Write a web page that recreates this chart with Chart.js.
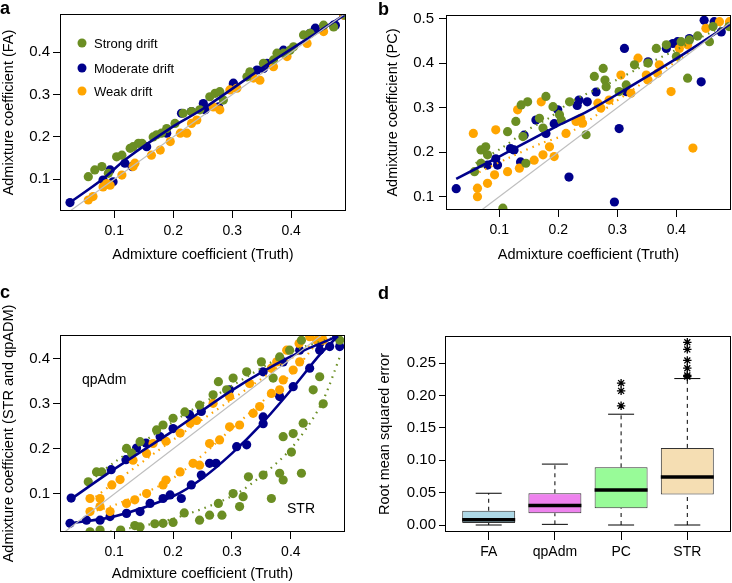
<!DOCTYPE html>
<html>
<head>
<meta charset="utf-8">
<script src="https://cdn.jsdelivr.net/npm/chart.js@4.4.0/dist/chart.umd.min.js"></script>
<style>
  body { margin: 0; background: #fff; }
  #fig { position: relative; width: 732px; height: 583px; font-family: 'Liberation Sans', Arial, sans-serif; color: #000; }
  canvas { position: absolute; }
  .tag { position: absolute; font-weight: bold; font-size: 18px; line-height: 18px; }
  .note { position: absolute; font-size: 13px; line-height: 13px; transform: translateY(-50%); white-space: nowrap; }
  .note.big { font-size: 14px; line-height: 14px; }
  .dot { position: absolute; width: 9px; height: 9px; border-radius: 50%; transform: translate(-50%, -50%); }
</style>
</head>
<body>
<div id="fig">
  <canvas id="chartA" width="366" height="290" style="left:0;top:0"></canvas>
  <canvas id="chartB" width="366" height="290" style="left:366px;top:0"></canvas>
  <canvas id="chartC" width="366" height="293" style="left:0;top:290px"></canvas>
  <canvas id="chartD" width="366" height="293" style="left:366px;top:290px"></canvas>

  <div class="tag" style="left:0;top:-1px">a</div>
  <div class="tag" style="left:378px;top:0">b</div>
  <div class="tag" style="left:0;top:283px">c</div>
  <div class="tag" style="left:378px;top:284px">d</div>

  <div class="dot" style="left:82px;top:43px;background:#6B8E23"></div>
  <div class="note" style="left:94px;top:43px">Strong drift</div>
  <div class="dot" style="left:82px;top:68px;background:#00008B"></div>
  <div class="note" style="left:94px;top:68px">Moderate drift</div>
  <div class="dot" style="left:82px;top:91px;background:#FFA500"></div>
  <div class="note" style="left:94px;top:91px">Weak drift</div>

  <div class="note big" style="left:82px;top:379px">qpAdm</div>
  <div class="note big" style="left:287px;top:508px">STR</div>
</div>

<script>
const GREEN = '#6B8E23', NAVY = '#00008B', ORANGE = '#FFA500', GRAY = '#BEBEBE';
const diag = [0, 0.5];

// panel a : FA vs truth
const aStrongX = [.056,.067,.079,.090,.104,.113,.127,.132,.141,.147,.166,.172,.180,.189,.203,.217,.231,.245,.262,.271,.279,.285,.325,.330,.353,.370,.376,.387,.398,.404,.421,.432,.455,.472,.492];
const aStrongY = [.106,.122,.130,.114,.153,.157,.173,.177,.185,.185,.200,.205,.209,.220,.232,.256,.260,.264,.295,.303,.307,.287,.342,.354,.374,.382,.398,.398,.405,.413,.441,.445,.464,.460,.488];
const aModX = [.025,.081,.093,.098,.118,.130,.155,.189,.214,.231,.251,.254,.277,.302,.302,.342,.353,.359,.387,.432,.441,.472,.475,.489];
const aModY = [.045,.098,.122,.094,.138,.130,.177,.209,.256,.260,.279,.264,.271,.327,.323,.358,.362,.374,.405,.445,.457,.464,.464,.488];
const aWeakX = [.056,.064,.081,.087,.093,.113,.132,.135,.163,.178,.195,.212,.223,.231,.240,.268,.279,.296,.308,.336,.347,.370,.393,.427,.455,.489];
const aWeakY = [.051,.059,.082,.090,.086,.110,.130,.138,.157,.169,.189,.209,.209,.232,.240,.271,.264,.311,.315,.339,.334,.366,.390,.421,.449,.488];
const aModLineX = [.025,.08,.12,.2,.25,.35,.45,.49];
const aModLineY = [.045,.10,.148,.225,.266,.362,.452,.488];

// panel b : PC vs truth
const bModX = [.027,.080,.094,.097,.119,.125,.136,.142,.162,.179,.193,.199,.218,.232,.235,.249,.264,.295,.303,.312,.315,.352,.383,.394,.402,.422,.442,.447,.464,.476];
const bModY = [.118,.171,.185,.171,.208,.205,.178,.238,.272,.242,.264,.295,.144,.305,.317,.313,.335,.088,.253,.433,.336,.403,.433,.444,.448,.455,.358,.496,.493,.470];
const bWeakX = [.056,.063,.063,.080,.092,.094,.114,.131,.134,.159,.171,.174,.185,.193,.213,.230,.238,.241,.267,.272,.286,.306,.323,.335,.349,.352,.368,.371,.391,.405,.419,.428,.450,.473,.490];
const bWeakY = [.242,.119,.100,.130,.149,.250,.156,.295,.164,.182,.313,.194,.212,.190,.242,.269,.276,.265,.310,.299,.317,.373,.332,.411,.373,.362,.377,.396,.336,.433,.441,.209,.478,.493,.493];
const bStrongX = [.058,.069,.069,.077,.080,.106,.114,.128,.137,.140,.145,.148,.168,.174,.179,.191,.202,.205,.219,.247,.261,.276,.279,.281,.303,.315,.329,.352,.366,.383,.400,.408,.419,.422,.436,.456,.462,.489];
const bStrongY = [.156,.205,.175,.212,.194,.074,.246,.269,.306,.235,.175,.313,.276,.254,.325,.302,.284,.272,.313,.239,.370,.388,.362,.347,.336,.351,.396,.400,.433,.441,.415,.448,.366,.452,.461,.448,.482,.482];
const bModLineX = [.027,.1,.2,.25,.3,.4,.49];
const bModLineY = [.14,.19,.26,.292,.33,.41,.487];
const bStrongLineX = [.06,.105,.147,.187,.221,.303,.34,.4,.49];
const bStrongLineY = [.175,.21,.249,.279,.313,.365,.391,.43,.49];
const bWeakLineX = [.066,.119,.170,.221,.329,.399,.49];
const bWeakLineY = [.155,.189,.219,.245,.343,.403,.49];

// panel c : qpAdm (upper group) and STR (lower group) vs truth
const cQpModX = [.027,.095,.120,.138,.154,.178,.200,.228,.248,.296,.353,.387,.415,.449,.478];
const cQpModY = [.091,.154,.176,.202,.213,.227,.245,.276,.283,.331,.371,.393,.419,.434,.449];
const cQpStrongX = [.056,.070,.079,.121,.130,.144,.172,.183,.200,.220,.245,.268,.277,.291,.302,.325,.350,.370,.381,.398,.418,.483];
const cQpStrongY = [.127,.149,.149,.201,.190,.216,.242,.253,.268,.282,.297,.320,.349,.331,.357,.371,.393,.357,.404,.419,.441,.441];
const cQpWeakX = [.059,.076,.096,.110,.132,.155,.166,.188,.212,.229,.240,.268,.296,.330,.367,.376,.393,.414,.432,.455];
const cQpWeakY = [.090,.090,.120,.132,.175,.190,.212,.217,.235,.257,.263,.301,.316,.345,.379,.393,.419,.434,.449,.441];
const cStrModX = [.025,.053,.076,.093,.121,.144,.161,.183,.195,.214,.231,.248,.262,.273,.308,.325,.353,.353,.381,.404,.432,.449,.466,.483];
const cStrModY = [.035,.042,.042,.050,.057,.061,.079,.090,.098,.090,.120,.142,.168,.168,.205,.209,.271,.256,.316,.338,.379,.419,.427,.427];
const cStrWeakX = [.059,.076,.093,.121,.135,.155,.183,.188,.212,.234,.245,.262,.279,.296,.313,.336,.347,.367,.381,.387,.404,.415,.444];
const cStrWeakY = [.061,.072,.061,.079,.087,.101,.120,.131,.149,.168,.164,.212,.220,.249,.253,.279,.294,.323,.331,.353,.375,.393,.441];
const cStrStrongX = [.059,.076,.111,.135,.144,.169,.183,.200,.219,.245,.262,.277,.283,.302,.313,.319,.328,.353,.367,.381,.387,.387,.401,.404,.418,.421,.438,.449,.455];
const cStrStrongY = [.016,.020,.020,.030,.027,.034,.035,.037,.058,.042,.053,.079,.053,.101,.072,.094,.138,.142,.090,.146,.131,.227,.193,.234,.146,.257,.331,.360,.300];
const cQpModLineX = [.025,.1,.2,.3,.4,.48];
const cQpModLineY = [.087,.155,.24,.33,.405,.45];
const cQpStrongLineX = [.06,.1,.2,.3,.4,.48];
const cQpStrongLineY = [.13,.17,.26,.34,.415,.45];
const cQpWeakLineX = [.06,.1,.2,.3,.4,.46];
const cQpWeakLineY = [.085,.125,.22,.31,.40,.45];
const cStrModLineX = [.025,.1,.2,.25,.3,.35,.4,.45,.48];
const cStrModLineY = [.035,.05,.095,.135,.19,.255,.33,.41,.45];
const cStrWeakLineX = [.06,.1,.2,.3,.4,.45];
const cStrWeakLineY = [.06,.075,.135,.245,.365,.445];
const cStrStrongLineX = [.06,.1,.2,.3,.35,.4,.45,.485];
const cStrStrongLineY = [.012,.018,.045,.095,.14,.2,.295,.41];

// panel d : boxplots of RMSE
const boxCats = ['FA', 'qpAdm', 'PC', 'STR'];
const boxLow = [0.000, 0.001, 0.000, 0.000];
const boxQ1 = [0.003, 0.018, 0.026, 0.047];
const boxMed = [0.008, 0.030, 0.054, 0.074];
const boxQ3 = [0.022, 0.049, 0.089, 0.119];
const boxHigh = [0.049, 0.094, 0.171, 0.226];
const outPC = [0.184, 0.207, 0.219];
const outSTR = [0.229, 0.231, 0.242, 0.254, 0.271, 0.282];
const boxColors = ['#ADD8E6', '#EE82EE', '#98FB98', '#F5DEB3'];

const ticks01 = [0.1, 0.2, 0.3, 0.4];
const ticks015 = [0.1, 0.2, 0.3, 0.4, 0.5];
const ticksErr = [0, 0.05, 0.10, 0.15, 0.20, 0.25];

Chart.defaults.font.family = "'Liberation Sans', Arial, sans-serif";
Chart.defaults.font.size = 14;
Chart.defaults.color = '#000';
Chart.defaults.animation = false;
Chart.defaults.plugins.legend.display = false;
Chart.defaults.plugins.tooltip.enabled = false;

const pts = (xs, ys) => xs.map((x, i) => ({ x: x, y: ys[i] }));

function dots(xs, ys, color, order) {
  return { type: 'scatter', data: pts(xs, ys), backgroundColor: color, borderWidth: 0,
    pointRadius: 4.6, pointHoverRadius: 4.6, order: order };
}
function fit(xs, ys, color, dotted) {
  return { type: 'scatter', showLine: true, data: pts(xs, ys), borderColor: color,
    borderWidth: dotted ? 2.2 : 2.6, borderDash: dotted ? [1.5, 5] : [],
    pointRadius: 0, pointHoverRadius: 0, tension: 0.3, order: 0 };
}
function identity() {
  return { type: 'scatter', showLine: true, data: pts(diag, diag), borderColor: GRAY,
    borderWidth: 1.2, pointRadius: 0, pointHoverRadius: 0, order: 0 };
}

// box round the plotting region, like R's box()
const frame = {
  id: 'frame',
  afterDraw(chart) {
    const { ctx, chartArea: a } = chart;
    ctx.save();
    ctx.strokeStyle = '#000';
    ctx.lineWidth = 1;
    ctx.strokeRect(Math.round(a.left) + 0.5, Math.round(a.top) + 0.5,
      Math.round(a.right - a.left) - 1, Math.round(a.bottom - a.top) - 1);
    ctx.restore();
  }
};

function axis(o) {
  return {
    type: 'linear', min: o.min, max: o.max, offset: false,
    afterBuildTicks: s => { s.ticks = o.ticks.map(v => ({ value: v })); },
    afterFit: s => { if (s.isHorizontal()) s.height = o.size; else s.width = o.size; },
    ticks: { autoSkip: false, maxRotation: 0, padding: o.labelPad, color: '#000',
      font: { size: o.horiz ? 14 : 15 }, callback: o.fmt },
    grid: { offset: false, drawOnChartArea: false, drawTicks: true, tickLength: o.tickLen, color: '#000' },
    border: { display: false },
    title: o.title ? { display: true, text: o.title, color: '#000', font: { size: 14.5 },
      padding: o.horiz ? { top: 0, bottom: o.titlePad } : { top: o.titlePad, bottom: 0 } }
      : { display: false }
  };
}
const f1 = v => v.toFixed(1);

function layout(top, right) {
  return { autoPadding: false, padding: { left: 0, top: top, right: right, bottom: 0 } };
}

// a
new Chart(document.getElementById('chartA'), {
  type: 'scatter',
  data: { datasets: [
    identity(),
    fit(aModLineX, aModLineY, NAVY),
    dots(aStrongX, aStrongY, GREEN, 1),
    dots(aWeakX, aWeakY, ORANGE, 2),
    dots(aModX, aModY, NAVY, 3)
  ] },
  options: {
    responsive: false,
    layout: layout(14, 20),
    scales: {
      x: axis({ min: 0.008, max: 0.493, ticks: ticks01, fmt: f1, size: 79, tickLen: 7, labelPad: 4.5,
        title: 'Admixture coefficient (Truth)', titlePad: 26, horiz: true }),
      y: axis({ min: 0.025, max: 0.4905, ticks: ticks01, fmt: f1, size: 60, tickLen: 7, labelPad: 3,
        title: 'Admixture coefficient (FA)', titlePad: 0 })
    }
  },
  plugins: [frame]
});

// b
new Chart(document.getElementById('chartB'), {
  type: 'scatter',
  data: { datasets: [
    identity(),
    fit(bModLineX, bModLineY, NAVY),
    fit(bStrongLineX, bStrongLineY, GREEN, true),
    fit(bWeakLineX, bWeakLineY, ORANGE, true),
    dots(bStrongX, bStrongY, GREEN, 1),
    dots(bWeakX, bWeakY, ORANGE, 2),
    dots(bModX, bModY, NAVY, 3)
  ] },
  options: {
    responsive: false,
    layout: layout(15, 1),
    scales: {
      x: axis({ min: 0.0097, max: 0.4925, ticks: ticks01, fmt: f1, size: 80, tickLen: 7, labelPad: 4.5,
        title: 'Admixture coefficient (Truth)', titlePad: 26, horiz: true }),
      y: axis({ min: 0.070, max: 0.508, ticks: ticks015, fmt: f1, size: 80, tickLen: 7, labelPad: 5,
        title: 'Admixture coefficient (PC)', titlePad: 18 })
    }
  },
  plugins: [frame]
});

// c
new Chart(document.getElementById('chartC'), {
  type: 'scatter',
  data: { datasets: [
    identity(),
    fit(cQpModLineX, cQpModLineY, NAVY),
    fit(cStrModLineX, cStrModLineY, NAVY),
    fit(cQpStrongLineX, cQpStrongLineY, GREEN, true),
    fit(cQpWeakLineX, cQpWeakLineY, ORANGE, true),
    fit(cStrWeakLineX, cStrWeakLineY, ORANGE, true),
    fit(cStrStrongLineX, cStrStrongLineY, GREEN, true),
    dots(cQpStrongX, cQpStrongY, GREEN, 1),
    dots(cStrStrongX, cStrStrongY, GREEN, 1),
    dots(cQpWeakX, cQpWeakY, ORANGE, 2),
    dots(cStrWeakX, cStrWeakY, ORANGE, 2),
    dots(cQpModX, cQpModY, NAVY, 3),
    dots(cStrModX, cStrModY, NAVY, 3)
  ] },
  options: {
    responsive: false,
    layout: layout(45, 21),
    scales: {
      x: axis({ min: 0.008, max: 0.492, ticks: ticks01, fmt: f1, size: 51, tickLen: 7, labelPad: 4.5,
        title: 'Admixture coefficient (Truth)', titlePad: 0, horiz: true }),
      y: axis({ min: 0.0157, max: 0.4526, ticks: ticks01, fmt: f1, size: 60, tickLen: 7, labelPad: 3,
        title: 'Admixture coefficient (STR and qpADM)', titlePad: 0 })
    }
  },
  plugins: [frame]
});

// d
const whiskers = [];
boxCats.forEach((c, i) => {
  [[boxQ3[i], boxHigh[i]], [boxLow[i], boxQ1[i]]].forEach(seg => {
    whiskers.push({ type: 'scatter', showLine: true,
      data: seg.map(v => ({ x: i + 1, y: v })), borderColor: '#000', borderWidth: 1,
      borderDash: [4, 4], pointRadius: 0, pointHoverRadius: 0, order: 1 });
  });
});
const capPts = arr => arr.map((v, i) => ({ x: i + 1, y: v }));

new Chart(document.getElementById('chartD'), {
  type: 'scatter',
  data: { datasets: [
    { type: 'bar', data: boxCats.map((c, i) => ({ x: i + 1, y: [boxQ1[i], boxQ3[i]] })),
      backgroundColor: boxColors, borderColor: '#333', borderWidth: 1, borderSkipped: false,
      barPercentage: 0.8, categoryPercentage: 1, order: 5 },
    ...whiskers,
    { type: 'scatter', data: capPts(boxHigh), pointStyle: 'line', pointRadius: 13, pointHoverRadius: 13,
      borderColor: '#000', pointBorderWidth: 1, order: 1 },
    { type: 'scatter', data: capPts(boxLow), pointStyle: 'line', pointRadius: 13, pointHoverRadius: 13,
      borderColor: '#000', pointBorderWidth: 1, order: 1 },
    { type: 'scatter', data: capPts(boxMed), pointStyle: 'line', pointRadius: 26.5, pointHoverRadius: 26.5,
      borderColor: '#000', pointBorderWidth: 3.6, order: 0 },
    { type: 'scatter', data: outPC.map(v => ({ x: 3, y: v })).concat(outSTR.map(v => ({ x: 4, y: v }))),
      pointStyle: 'star', pointRadius: 4.2, pointHoverRadius: 4.2, borderColor: '#000',
      pointBorderWidth: 1.3, order: 0 }
  ] },
  options: {
    responsive: false,
    layout: layout(46, 1),
    scales: {
      x: axis({ min: 0.34, max: 4.66, ticks: [1, 2, 3, 4], fmt: v => boxCats[v - 1], size: 51,
        tickLen: 8, labelPad: 3.5, horiz: true }),
      y: axis({ min: -0.0108, max: 0.2917, ticks: ticksErr, fmt: v => v.toFixed(2), size: 79,
        tickLen: 6, labelPad: 3, title: 'Root mean squared error', titlePad: 10 })
    }
  },
  plugins: [frame]
});
</script>
</body>
</html>
